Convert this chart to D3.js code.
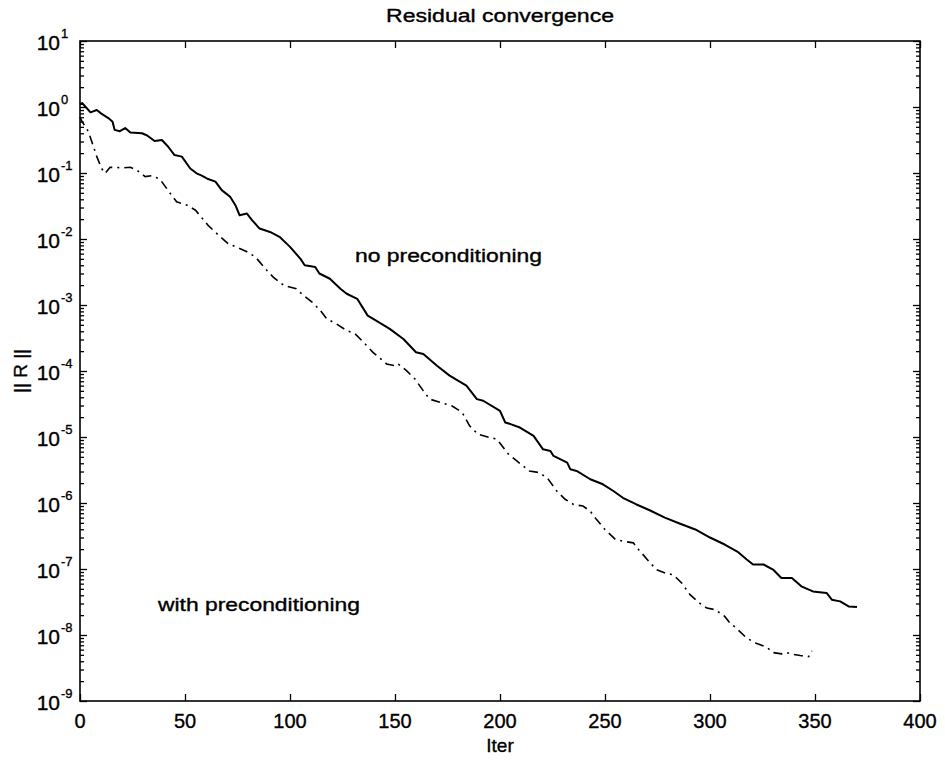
<!DOCTYPE html>
<html><head><meta charset="utf-8">
<script src="https://cdn.jsdelivr.net/npm/d3@7"></script>
<style>
body{margin:0;background:#fff;}
text{font-family:"Liberation Sans",Arial,Helvetica,sans-serif;fill:#000;stroke:#000;stroke-width:0.35px;}
</style></head>
<body><svg id="chart" width="945" height="761"></svg>
<script>
const titleText = "Residual convergence";
const xLabel = "Iter";
const yLabel = "|| R ||";
const xTicks = [0,50,100,150,200,250,300,350,400];
const yTickExps = [1,0,-1,-2,-3,-4,-5,-6,-7,-8,-9];
const noPrecLabel = "no  preconditioning";
const precLabel = "with preconditioning";

// no preconditioning (solid)
const noPrecData = [[0,1.1],[1,1.15],[5,0.83],[8,0.9],[10,0.8],[13.5,0.68],[15.5,0.6],[16.5,0.45],[19,0.43],[21.5,0.48],[24,0.41],[29.5,0.4],[32,0.37],[35.5,0.305],[39,0.316],[42,0.25],[45,0.187],[48.5,0.177],[52.5,0.117],[55.5,0.099],[58,0.091],[61,0.081],[64.5,0.074],[67.5,0.055],[71.5,0.0436],[74,0.0325],[76,0.0229],[79.5,0.0243],[82,0.0192],[85.5,0.0144],[90.5,0.0128],[95,0.0108],[100,0.0076],[105,0.005],[107,0.004],[112,0.00377],[114,0.003],[119,0.0025],[124,0.00176],[127,0.00148],[132,0.00124],[137,6.9e-4],[141,5.8e-4],[147.5,4.35e-4],[154,3.06e-4],[160,1.92e-4],[163.5,1.81e-4],[170,1.2e-4],[176,8.5e-5],[184,6e-5],[189,3.75e-5],[192,3.54e-5],[200,2.49e-5],[202.5,1.66e-5],[205,1.57e-5],[209.5,1.39e-5],[216,1.04e-5],[220.5,6.5e-6],[224,6.15e-6],[225.5,5.16e-6],[232,4.1e-6],[233.5,3.24e-6],[236.5,3.06e-6],[243,2.29e-6],[249,1.92e-6],[254,1.52e-6],[258.5,1.2e-6],[265,9.5e-7],[271.5,7.7e-7],[278.5,6e-7],[285.5,4.9e-7],[293,3.97e-7],[300,3e-7],[307,2.35e-7],[313,1.84e-7],[317.5,1.39e-7],[320.5,1.17e-7],[325.5,1.17e-7],[330,9.8e-8],[334,7.3e-8],[339,7.3e-8],[343.5,5.46e-8],[349,4.58e-8],[355.5,4.33e-8],[358,3.43e-8],[362,3.23e-8],[366,2.71e-8],[370,2.65e-8]];

// with preconditioning (dash-dot)
const precData = [[0,0.7],[1,0.6],[4,0.425],[8,0.177],[10.3,0.117],[12,0.0986],[14.3,0.122],[20.6,0.12],[24,0.122],[27,0.111],[31,0.088],[34,0.091],[38,0.081],[43,0.049],[46,0.0366],[51,0.0325],[55,0.0273],[61,0.0161],[66,0.0114],[70.5,0.0085],[75.5,0.0073],[79.5,0.0064],[83.5,0.00535],[89,0.00334],[92,0.00265],[97,0.00198],[103,0.00176],[106.5,0.00139],[110.5,0.00111],[114.5,8.2e-4],[117.5,6.2e-4],[122,5.2e-4],[127,4.1e-4],[131,3.65e-4],[135,2.73e-4],[139.5,1.92e-4],[146,1.28e-4],[150,1.2e-4],[151.5,1.28e-4],[155.5,1.01e-4],[159.5,7.55e-5],[163.5,5e-5],[166.5,3.75e-5],[171.5,3.34e-5],[177,2.97e-5],[182,2.36e-5],[185.5,1.48e-5],[189.5,1.1e-5],[195,9.8e-6],[198.5,9.3e-6],[204,5.5e-6],[208,4.34e-6],[214,3.06e-6],[219,2.88e-6],[223,2.29e-6],[227,1.52e-6],[231,1.14e-6],[235,9.5e-7],[239.5,8.98e-7],[243,7.5e-7],[246,5.6e-7],[250,3.97e-7],[255,2.8e-7],[258.5,2.64e-7],[263.5,2.49e-7],[266,1.97e-7],[271.5,1.24e-7],[274.5,9.8e-8],[279.5,8.5e-8],[282.5,8.2e-8],[286.5,6.15e-8],[290.5,4.08e-8],[295,3.05e-8],[298.5,2.56e-8],[302.5,2.42e-8],[307,1.91e-8],[309.5,1.52e-8],[312.5,1.27e-8],[317.5,8.97e-9],[322,7.5e-9],[327,6.55e-9],[330,5.42e-9],[334,5.18e-9],[336.5,5.42e-9],[339,5.13e-9],[343,4.88e-9],[347,4.71e-9],[347.5,5.0e-9],[348.5,5.75e-9]];

const svg = d3.select("#chart");
const L = 80, R = 920, T = 41, B = 701;
const x = d3.scaleLinear().domain([0,400]).range([L,R]);
const y = d3.scaleLog().domain([1e-9,1e1]).range([B,T]);

const majors = yTickExps.map(e => Math.pow(10,e));
const minors = [];
for (let e=-9;e<1;e++) for (let m=2;m<=9;m++) minors.push(m*Math.pow(10,e));

const axStyle = g => { g.select(".domain").remove(); g.selectAll("line").attr("stroke","#000").attr("stroke-width",1.3); g.selectAll("text").remove(); };

svg.append("g").attr("transform",`translate(0,${B})`).call(d3.axisBottom(x).tickValues(xTicks).tickSize(-7).tickFormat("")).call(axStyle);
svg.append("g").attr("transform",`translate(0,${T})`).call(d3.axisTop(x).tickValues(xTicks).tickSize(-7).tickFormat("")).call(axStyle);
svg.append("g").attr("transform",`translate(${L},0)`).call(d3.axisLeft(y).tickValues(majors).tickSize(-7).tickFormat("")).call(axStyle);
svg.append("g").attr("transform",`translate(${L},0)`).call(d3.axisLeft(y).tickValues(minors).tickSize(-4).tickFormat("")).call(axStyle);
svg.append("g").attr("transform",`translate(${R},0)`).call(d3.axisRight(y).tickValues(majors).tickSize(-7).tickFormat("")).call(axStyle);
svg.append("g").attr("transform",`translate(${R},0)`).call(d3.axisRight(y).tickValues(minors).tickSize(-4).tickFormat("")).call(axStyle);

svg.append("rect").attr("x",L).attr("y",T).attr("width",R-L).attr("height",B-T)
  .attr("fill","none").attr("stroke","#000").attr("stroke-width",1.6);

// x tick labels
svg.append("g").selectAll("text").data(xTicks).join("text")
  .attr("x",d=>x(d)).attr("y",B+27).attr("text-anchor","middle")
  .style("font-size","20px").text(d=>d);

// y tick labels 10^e
const yl = svg.append("g").selectAll("g").data(yTickExps).join("g")
  .attr("transform",e=>`translate(60,${y(Math.pow(10,e))})`);
yl.append("text").attr("x",0).attr("y",9).attr("text-anchor","end").style("font-size","21px").text("10");
yl.append("text").attr("x",1).attr("y",-3).attr("text-anchor","start").style("font-size","13px").text(e=>String(e));

// lines
const line = d3.line().x(d=>x(d[0])).y(d=>y(d[1]));
svg.append("path").datum(noPrecData).attr("d",line).attr("fill","none")
  .attr("stroke","#000").attr("stroke-width",2).attr("stroke-linejoin","round");
svg.append("path").datum(precData).attr("d",line).attr("fill","none")
  .attr("stroke","#000").attr("stroke-width",1.6).attr("stroke-dasharray","9,5,2,5");

// texts
svg.append("text").attr("x",(L+R)/2).attr("y",22).attr("text-anchor","middle")
  .style("font-size","18px").attr("textLength",228).attr("lengthAdjust","spacingAndGlyphs").text(titleText);
svg.append("text").attr("x",(L+R)/2).attr("y",752).attr("text-anchor","middle")
  .style("font-size","19px").text(xLabel);
svg.append("text").attr("transform",`translate(27,${(T+B)/2}) rotate(-90)`).attr("text-anchor","middle")
  .style("font-size","19px").text(yLabel);
svg.append("text").attr("x",355).attr("y",262)
  .style("font-size","18px").attr("textLength",187).attr("lengthAdjust","spacingAndGlyphs").text(noPrecLabel);
svg.append("text").attr("x",158).attr("y",611)
  .style("font-size","18px").attr("textLength",202).attr("lengthAdjust","spacingAndGlyphs").text(precLabel);
</script></body></html>
